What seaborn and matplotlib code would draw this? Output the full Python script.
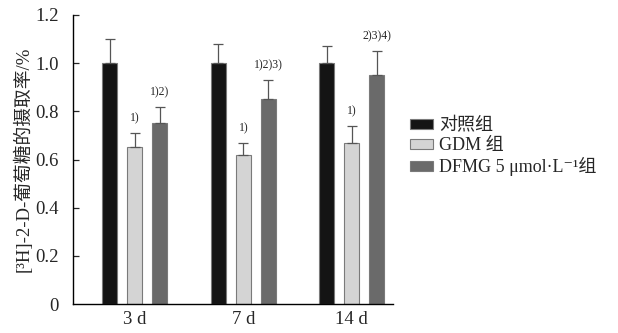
#====================================================================
# [3H]-2-D-葡萄糖摄取率 - 分组柱状图
#====================================================================

import pandas as pd
import matplotlib
matplotlib.use("Agg")
import matplotlib.pyplot as plt
import seaborn as sns

#====================================================================
# DATOS
#====================================================================

days = ["3 d", "7 d", "14 d"]
groups = ["对照组", "GDM 组", "DFMG 5 μmol·L⁻¹组"]

control = [1.00, 1.00, 1.00]
gdm = [0.65, 0.62, 0.67]
dfmg = [0.75, 0.85, 0.95]

control_err = [0.10, 0.08, 0.07]
gdm_err = [0.06, 0.05, 0.07]
dfmg_err = [0.07, 0.08, 0.10]

gdm_marks = ["1)", "1)", "1)"]
dfmg_marks = ["1)2)", "1)2)3)", "2)3)4)"]

colors = ["#141414", "#d4d4d4", "#6a6a6a"]

rows = []
for g, vals, errs in zip(groups, [control, gdm, dfmg],
                         [control_err, gdm_err, dfmg_err]):
    for d, v, e in zip(days, vals, errs):
        rows.append({"day": d, "group": g, "value": v, "err": e})
df = pd.DataFrame(rows)

#====================================================================
# GRAFICO
#====================================================================

sns.set_style("white")
plt.rcParams["font.family"] = ["Liberation Serif", "Noto Sans CJK SC", "DejaVu Sans"]

fig = plt.figure(figsize=(6.18, 3.33), dpi=100)
ax = fig.add_axes([0.118, 0.087, 0.518, 0.868])

sns.barplot(
    data=df, x="day", y="value", hue="group",
    hue_order=groups, order=days,
    palette=colors, errorbar=None,
    width=0.69, gap=0.4, ax=ax,
    edgecolor="#7a7a7a", linewidth=0.8,
)

# barras de error (solo hacia arriba) y marcas
marks = {groups[1]: gdm_marks, groups[2]: dfmg_marks}
for container, g in zip(ax.containers, groups):
    sub = df[df["group"] == g].set_index("day").loc[days]
    for i, (bar, (_, r)) in enumerate(zip(container, sub.iterrows())):
        xc = bar.get_x() + bar.get_width() / 2
        ax.errorbar(
            xc, r["value"], yerr=[[0], [r["err"]]],
            fmt="none", ecolor="#555555", elinewidth=0.9,
            capsize=3.5, capthick=0.9,
        )
        if g in marks:
            ax.text(
                xc, r["value"] + r["err"] + 0.035, marks[g][i],
                ha="center", va="bottom", fontsize=8.5,
            )

ax.set_ylim(0, 1.2)
ax.set_xlim(-0.57, 2.38)
ax.set_yticks([0, 0.2, 0.4, 0.6, 0.8, 1.0, 1.2])
ax.set_yticklabels(["0", "0.2", "0.4", "0.6", "0.8", "1.0", "1.2"])
ax.tick_params(axis="y", direction="in", length=4, width=0.9,
               labelsize=13.5, pad=10, left=True)
ax.tick_params(axis="x", length=0, labelsize=13.5, pad=5)
ax.yaxis.get_major_ticks()[0].tick1line.set_visible(False)

ax.set_xlabel("")
ax.set_ylabel("[³H]-2-D-葡萄糖的摄取率/%", fontsize=13.5, labelpad=2)

sns.despine(ax=ax)
for s in ["left", "bottom"]:
    ax.spines[s].set_color("black")
    ax.spines[s].set_linewidth(1.0)

ax.legend(
    loc="upper left", bbox_to_anchor=(1.03, 0.67),
    frameon=False, fontsize=13,
    handlelength=1.3, handleheight=0.5,
    handletextpad=0.3, labelspacing=0.15,
    borderaxespad=0,
)

plt.savefig("out.png", dpi=100)
